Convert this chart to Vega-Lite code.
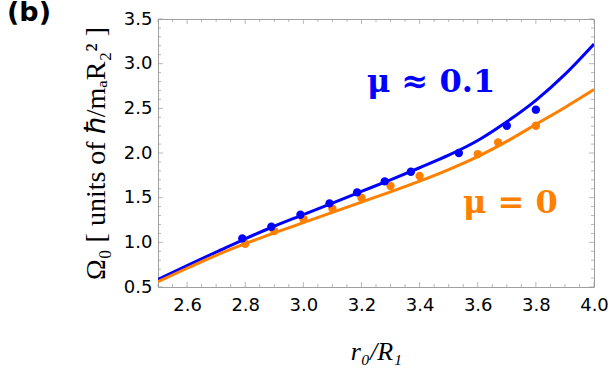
{
  "$schema": "https://vega.github.io/schema/vega-lite/v6.json",
  "width": 436,
  "height": 268,
  "autosize": {"type": "none"},
  "padding": {"left": 158, "top": 19, "right": 19, "bottom": 90},
  "background": "white",
  "title": {"text": "(b)", "anchor": "start", "frame": "group", "orient": "top", "baseline": "top", "fontSize": 27, "font": "DejaVu Sans", "fontWeight": "bold", "color": "black", "dx": -151, "offset": -22},
  "config": {
    "view": {"stroke": "#a0a0a0", "strokeWidth": 1},
    "axis": {"grid": false, "domain": false, "tickOpacity": 0, "labelColor": "black", "labelFont": "DejaVu Sans", "labelFontSize": 18, "labelOverlap": false, "labelFlush": false}
  },
  "datasets": {
    "curves": [
      {"x": 2.5, "y": 0.585, "s": "mu01"}, {"x": 2.6, "y": 0.74, "s": "mu01"}, {"x": 2.7, "y": 0.89, "s": "mu01"}, {"x": 2.8, "y": 1.04, "s": "mu01"},
      {"x": 2.9, "y": 1.18, "s": "mu01"}, {"x": 3.0, "y": 1.31, "s": "mu01"}, {"x": 3.1, "y": 1.44, "s": "mu01"}, {"x": 3.2, "y": 1.57, "s": "mu01"},
      {"x": 3.3, "y": 1.70, "s": "mu01"}, {"x": 3.4, "y": 1.835, "s": "mu01"}, {"x": 3.5, "y": 1.975, "s": "mu01"}, {"x": 3.6, "y": 2.14, "s": "mu01"},
      {"x": 3.7, "y": 2.35, "s": "mu01"}, {"x": 3.8, "y": 2.59, "s": "mu01"}, {"x": 3.9, "y": 2.88, "s": "mu01"}, {"x": 4.0, "y": 3.22, "s": "mu01"},
      {"x": 2.5, "y": 0.56, "s": "mu0"}, {"x": 2.6, "y": 0.71, "s": "mu0"}, {"x": 2.7, "y": 0.855, "s": "mu0"}, {"x": 2.8, "y": 0.985, "s": "mu0"},
      {"x": 2.9, "y": 1.105, "s": "mu0"}, {"x": 3.0, "y": 1.22, "s": "mu0"}, {"x": 3.1, "y": 1.335, "s": "mu0"}, {"x": 3.2, "y": 1.45, "s": "mu0"},
      {"x": 3.3, "y": 1.565, "s": "mu0"}, {"x": 3.4, "y": 1.685, "s": "mu0"}, {"x": 3.5, "y": 1.815, "s": "mu0"}, {"x": 3.6, "y": 1.96, "s": "mu0"},
      {"x": 3.7, "y": 2.13, "s": "mu0"}, {"x": 3.8, "y": 2.32, "s": "mu0"}, {"x": 3.9, "y": 2.51, "s": "mu0"}, {"x": 4.0, "y": 2.71, "s": "mu0"}
    ],
    "points": [
      {"x": 2.80, "y": 0.984, "s": "mu0"}, {"x": 2.90, "y": 1.126, "s": "mu0"}, {"x": 3.00, "y": 1.264, "s": "mu0"}, {"x": 3.10, "y": 1.38, "s": "mu0"},
      {"x": 3.20, "y": 1.499, "s": "mu0"}, {"x": 3.30, "y": 1.63, "s": "mu0"}, {"x": 3.40, "y": 1.742, "s": "mu0"}, {"x": 3.60, "y": 1.988, "s": "mu0"},
      {"x": 3.67, "y": 2.119, "s": "mu0"}, {"x": 3.80, "y": 2.305, "s": "mu0"},
      {"x": 2.79, "y": 1.044, "s": "mu01"}, {"x": 2.89, "y": 1.174, "s": "mu01"}, {"x": 2.99, "y": 1.309, "s": "mu01"}, {"x": 3.09, "y": 1.436, "s": "mu01"},
      {"x": 3.185, "y": 1.559, "s": "mu01"}, {"x": 3.28, "y": 1.682, "s": "mu01"}, {"x": 3.37, "y": 1.79, "s": "mu01"}, {"x": 3.535, "y": 2.0, "s": "mu01"},
      {"x": 3.70, "y": 2.305, "s": "mu01"}, {"x": 3.80, "y": 2.485, "s": "mu01"}
    ],
    "labels": [
      {"label": "μ ≈ 0.1", "s": "mu01"},
      {"label": "μ = 0", "s": "mu0"}
    ],
    "xmajor": [{"v": 2.6}, {"v": 2.8}, {"v": 3.0}, {"v": 3.2}, {"v": 3.4}, {"v": 3.6}, {"v": 3.8}, {"v": 4.0}],
    "xminor": [{"v": 2.5}, {"v": 2.55}, {"v": 2.65}, {"v": 2.7}, {"v": 2.75}, {"v": 2.85}, {"v": 2.9}, {"v": 2.95}, {"v": 3.05}, {"v": 3.1}, {"v": 3.15}, {"v": 3.25}, {"v": 3.3}, {"v": 3.35}, {"v": 3.45}, {"v": 3.5}, {"v": 3.55}, {"v": 3.65}, {"v": 3.7}, {"v": 3.75}, {"v": 3.85}, {"v": 3.9}, {"v": 3.95}],
    "ymajor": [{"v": 0.5}, {"v": 1.0}, {"v": 1.5}, {"v": 2.0}, {"v": 2.5}, {"v": 3.0}, {"v": 3.5}],
    "yminor": [{"v": 0.6}, {"v": 0.7}, {"v": 0.8}, {"v": 0.9}, {"v": 1.1}, {"v": 1.2}, {"v": 1.3}, {"v": 1.4}, {"v": 1.6}, {"v": 1.7}, {"v": 1.8}, {"v": 1.9}, {"v": 2.1}, {"v": 2.2}, {"v": 2.3}, {"v": 2.4}, {"v": 2.6}, {"v": 2.7}, {"v": 2.8}, {"v": 2.9}, {"v": 3.1}, {"v": 3.2}, {"v": 3.3}, {"v": 3.4}]
  },
  "layer": [
    {"data": {"name": "xmajor"}, "mark": {"type": "tick", "orient": "vertical", "size": 5, "thickness": 1, "color": "#999999", "yOffset": -2.5},
     "encoding": {"x": {"field": "v", "type": "quantitative"}, "y": {"datum": 0.5, "type": "quantitative"}}},
    {"data": {"name": "xmajor"}, "mark": {"type": "tick", "orient": "vertical", "size": 5, "thickness": 1, "color": "#999999", "yOffset": 2.5},
     "encoding": {"x": {"field": "v", "type": "quantitative"}, "y": {"datum": 3.5, "type": "quantitative"}}},
    {"data": {"name": "xminor"}, "mark": {"type": "tick", "orient": "vertical", "size": 3, "thickness": 1, "color": "#999999", "yOffset": -1.5},
     "encoding": {"x": {"field": "v", "type": "quantitative"}, "y": {"datum": 0.5, "type": "quantitative"}}},
    {"data": {"name": "xminor"}, "mark": {"type": "tick", "orient": "vertical", "size": 3, "thickness": 1, "color": "#999999", "yOffset": 1.5},
     "encoding": {"x": {"field": "v", "type": "quantitative"}, "y": {"datum": 3.5, "type": "quantitative"}}},
    {"data": {"name": "ymajor"}, "mark": {"type": "tick", "orient": "horizontal", "size": 5, "thickness": 1, "color": "#999999", "xOffset": 2.5},
     "encoding": {"y": {"field": "v", "type": "quantitative"}, "x": {"datum": 2.5, "type": "quantitative"}}},
    {"data": {"name": "ymajor"}, "mark": {"type": "tick", "orient": "horizontal", "size": 5, "thickness": 1, "color": "#999999", "xOffset": -2.5},
     "encoding": {"y": {"field": "v", "type": "quantitative"}, "x": {"datum": 4.0, "type": "quantitative"}}},
    {"data": {"name": "yminor"}, "mark": {"type": "tick", "orient": "horizontal", "size": 3, "thickness": 1, "color": "#999999", "xOffset": 1.5},
     "encoding": {"y": {"field": "v", "type": "quantitative"}, "x": {"datum": 2.5, "type": "quantitative"}}},
    {"data": {"name": "yminor"}, "mark": {"type": "tick", "orient": "horizontal", "size": 3, "thickness": 1, "color": "#999999", "xOffset": -1.5},
     "encoding": {"y": {"field": "v", "type": "quantitative"}, "x": {"datum": 4.0, "type": "quantitative"}}},
    {
      "data": {"name": "curves"},
      "mark": {"type": "line", "strokeWidth": 3, "interpolate": "monotone", "clip": true},
      "encoding": {
        "x": {"field": "x", "type": "quantitative", "scale": {"domain": [2.5, 4.0], "nice": false, "zero": false},
          "axis": {"orient": "bottom", "values": [2.6, 2.8, 3.0, 3.2, 3.4, 3.6, 3.8, 4.0],
            "format": ".1f", "tickSize": 5, "labelPadding": 4,
            "title": "r₀/R₁", "titleFont": "Liberation Serif", "titleFontStyle": "italic", "titleFontWeight": "normal", "titleFontSize": 26, "titleColor": "black", "titlePadding": 24}},
        "y": {"field": "y", "type": "quantitative", "scale": {"domain": [0.5, 3.5], "nice": false, "zero": false},
          "axis": {"orient": "left", "values": [0.5, 1.0, 1.5, 2.0, 2.5, 3.0, 3.5],
            "format": ".1f", "tickSize": -5, "labelPadding": 11,
            "title": "Ω₀   [  units  of  ℏ/mₐR₂²  ]", "titleFont": "Liberation Serif", "titleFontWeight": "normal", "titleFontSize": 28, "titleColor": "black", "titlePadding": 13}},
        "color": {"field": "s", "type": "nominal", "scale": {"domain": ["mu01", "mu0"], "range": ["#0000ff", "#ff8000"]}, "legend": null},
        "order": {"field": "s", "sort": "ascending"}
      }
    },
    {
      "data": {"name": "points"},
      "mark": {"type": "circle", "size": 70, "opacity": 1},
      "encoding": {
        "x": {"field": "x", "type": "quantitative"},
        "y": {"field": "y", "type": "quantitative"},
        "color": {"field": "s", "type": "nominal", "legend": null},
        "order": {"field": "s", "sort": "ascending"}
      }
    },
    {
      "data": {"name": "labels"},
      "transform": [{"filter": "datum.s == 'mu01'"}],
      "mark": {"type": "text", "align": "left", "baseline": "alphabetic", "font": "DejaVu Serif", "fontWeight": "bold", "fontSize": 32},
      "encoding": {
        "x": {"datum": 3.219, "type": "quantitative"},
        "y": {"datum": 2.686, "type": "quantitative"},
        "text": {"field": "label"},
        "color": {"field": "s", "type": "nominal", "legend": null}
      }
    },
    {
      "data": {"name": "labels"},
      "transform": [{"filter": "datum.s == 'mu0'"}],
      "mark": {"type": "text", "align": "left", "baseline": "alphabetic", "font": "DejaVu Serif", "fontWeight": "bold", "fontSize": 32},
      "encoding": {
        "x": {"datum": 3.549, "type": "quantitative"},
        "y": {"datum": 1.324, "type": "quantitative"},
        "text": {"field": "label"},
        "color": {"field": "s", "type": "nominal", "legend": null}
      }
    }
  ]
}
